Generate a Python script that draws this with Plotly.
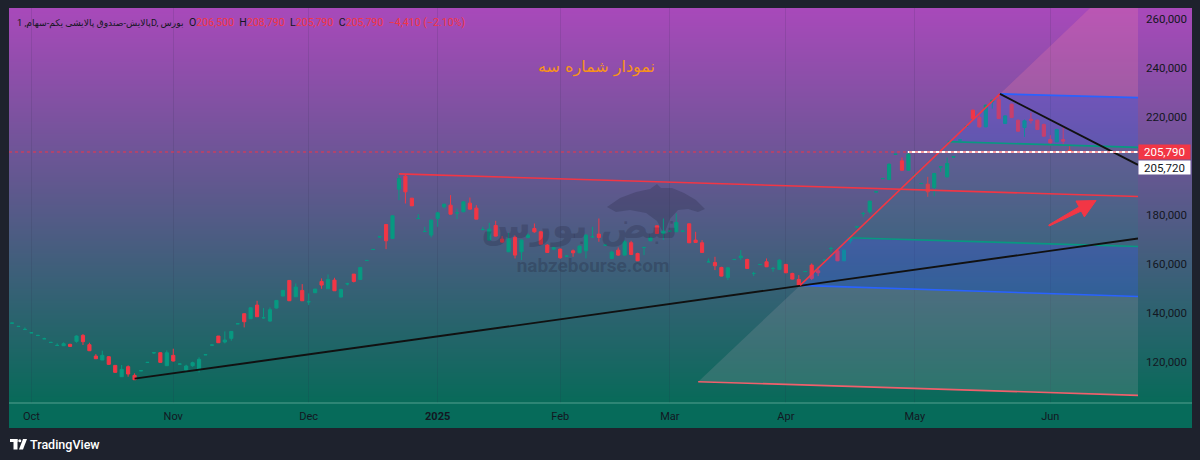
import base64, struct, zlib
import plotly.graph_objects as go

# ---------------- data (daily bars, index 0 = first bar shown) ----------------
opens = [135850,134500,133250,131900,130800,129450,127950,126730,126650,127200,
         128420,130870,127060,122430,120800,122160,118620,113990,118080,114540,
         116400,119800,123750,123790,118490,122710,119120,116720,118490,116990,
         122930,126880,130600,128150,129650,135580,139720,137670,143250,138000,
         136720,142030,146930,153320,146650,149240,144560,148290,152910,149920,
         153460,146520,151900,155910,153730,161430,165920,171090,176180,170470,
         190600,195910,186930,178580,173270,171830,178630,183390,184070,180890,
         181350,184890,182850,174090,169790,175770,170200,165020,170880,165020,
         170880,174550,173190,167750,166110,166110,163200,165430,164620,165430,
         171100,172240,167700,162300,165700,163660,168700,164340,166740,169510,
         175640,172510,173400,173190,173400,176450,169790,168700,160880,160670,
         158630,154550,161830,162570,161890,156120,159790,160940,158160,157810,
         159850,156180,153730,156920,159580,157270,161560,166330,165430,161350,
         169380,175170,180610,181350,189460,194900,194550,204830,202170,198360,
         196260,192860,192640,191280,199660,195640,203740,210680,216260,222850,
         219860,216050,226260,227340,217410,225300,218770,215780,219180,218770,
         217000,210880,209930,210880,206500]
highs = [136000,134600,134100,132050,130950,129920,128100,127600,128010,127470,
         130870,131420,127870,123250,124610,122430,118760,118760,118620,115360,
         116550,119950,124070,123930,124750,125430,119500,118890,120120,121890,
         123100,127050,130600,132500,132640,135900,139860,142300,145020,142030,
         142300,145290,149380,153460,152100,151820,148020,149790,154140,155770,
         154410,149920,152370,155910,158770,161600,166100,171250,176320,179860,
         196320,196590,186930,180400,175230,178220,181350,184620,188160,182710,
         185570,187200,184070,175230,176860,177680,171420,172780,171690,170060,
         172510,176590,173600,168150,167070,166380,163530,165970,167610,172240,
         175230,178630,167900,165430,166790,169790,169520,164620,167070,171150,
         175770,178630,173600,180670,173600,176590,173190,169790,162300,162980,
         158900,158770,162000,165700,162170,156860,160000,162300,158900,161890,
         160120,156450,155500,157100,160260,158900,161750,167070,165700,165970,
         171150,175350,181350,185840,189650,195100,201080,205000,203530,205430,
         196450,193050,195640,197270,199860,203530,203950,210850,216450,223130,
         220810,225170,227200,229390,220810,225570,219040,219040,221760,219040,
         217410,212650,215230,215780,208790]
lows = [135750,134450,133200,131850,130750,129400,127900,126700,126520,126110,
        127870,126930,124470,121340,120800,118760,115630,113860,113990,112770,
        116300,119750,123250,119710,118490,120250,119000,115770,118080,115770,
        122850,126800,127870,127600,128700,135500,134140,137670,138490,137670,
        136450,141890,146930,145020,146520,145020,143250,148290,149920,149790,
        149100,146380,151280,152500,153730,161350,165850,171000,166110,170330,
        186120,184750,183800,178500,173200,170870,175230,182710,180260,178360,
        181350,182300,178360,173730,169650,171280,168700,164880,162300,161620,
        170470,172780,168020,164620,165700,162170,162980,162980,164480,162300,
        170880,169110,167600,162030,163390,163390,163660,161210,163660,169380,
        172370,169790,173300,173050,173300,168560,168700,164620,160800,157540,
        154950,153460,161750,161620,158080,155090,159700,158770,156860,157670,
        156310,153730,151280,156850,153460,155090,161500,165020,161210,161210,
        168430,175100,179310,180670,189400,194850,194280,204750,198220,198220,
        196200,192800,187480,187750,197680,195370,203650,210600,216200,219310,
        215780,215910,223530,219310,217270,219720,214140,211970,217410,214820,
        212100,208570,209790,208570,205790]
closes = [135900,134550,133320,131960,130870,129510,128010,126790,127470,126380,
          130600,128290,124610,121340,122710,119030,115770,116990,115090,112770,
          116450,119850,123800,119850,123790,120390,119170,118350,119710,121070,
          122980,126930,127870,128970,132500,135630,136450,142160,138490,138090,
          141350,145160,149240,145020,150600,145020,144610,149790,151420,153730,
          149100,149650,151960,152910,158630,161490,165980,171150,169520,179720,
          194960,189520,183800,178630,173320,177950,180940,184480,180400,180940,
          185430,182440,178360,174140,174280,171420,168970,170200,163660,169790,
          171830,173190,168150,164750,166660,162580,163260,164620,167340,171830,
          171150,170880,167750,164890,163660,169110,163940,161350,166790,170880,
          172510,173460,173460,176990,173460,168700,168830,164750,160940,159310,
          155090,158490,161890,163260,158220,156180,159850,158900,158220,161620,
          156450,153870,151420,156980,154140,156450,161620,166390,161350,165700,
          170470,175230,180670,185710,189520,194960,200810,204890,198360,204890,
          196320,192920,189520,197000,199720,201080,203800,210730,216320,219450,
          216050,224900,226940,219450,220540,219860,214280,218500,218640,214960,
          212240,209520,214960,210200,205790]
bar_index = list(range(len(opens)))

month_start_bar = [3, 25, 46, 66, 85, 102, 120, 140, 161]
month_labels = ["Oct", "Nov", "Dec", "<b>2025</b>", "Feb", "Mar", "Apr", "May", "Jun"]
price_ticks = [120000, 140000, 160000, 180000, 200000, 220000, 240000, 260000]

x_range = [-0.47, 174.6]
y_range = [103250, 264610]

# drawings (bar index, price)
support_idx, support_price = [19, 174.6], [113170, 170450]
resist_idx, resist_price = [60, 174.6], [196860, 187590]
rise_idx, rise_price = [122.2, 153.2], [151300, 229510]
fall_idx, fall_price = [153.2, 174.6], [229510, 200530]
ray_idx, ray_price = [138.9, 174.6], [205790, 205790]
chan_left_idx = [106.4, 122.2, 129.6, 145.1, 153.2]
chan_left_price = [111960, 151300, 170730, 210040, 229510]
chan_right_price = [106370, 146780, 167190, 207670, 228000]
chan_right_idx = 174.6
arrow_tail = (160.8, 175760)
arrow_tip = (168.1, 185960)

last_price = 205790
second_label_price = 205720
symbol_text = "پالایش-صندوق پالایشی یکم-سهام, 1D, بورس"
ohlc_text = ["206,500", "208,790", "205,790", "205,790"]
change_text = "−4,410 (−2.10%)"
title_text = "نمودار شماره سه"

# ---------------- helpers (pixel layout) ----------------
W, H = 1200, 460
PL, PR, PT, PB = 9, 1138, 8, 403  # plot area in pixels
PX_PER_BAR = (PR - PL) / (x_range[1] - x_range[0])
PX_PER_PRICE = (PB - PT) / (y_range[1] - y_range[0])


def px(xp):
    return (xp - PL) / (PR - PL)


def py(yp):
    return (PB - yp) / (PB - PT)


def gradient_png():
    top = (168, 73, 186)
    bot = (8, 106, 89)
    axis = (6, 107, 90)
    rows = []
    n = PB - PT
    for i in range(n):
        t = i / (n - 1)
        rows.append(tuple(int(round(a + (b - a) * t)) for a, b in zip(top, bot)))
    for i in range(428 - PB):
        rows.append(axis)
    raw = b"".join(b"\x00" + bytes(r) for r in rows)

    def chunk(tag, data):
        c = struct.pack(">I", len(data)) + tag + data
        return c + struct.pack(">I", zlib.crc32(tag + data) & 0xffffffff)

    png = (b"\x89PNG\r\n\x1a\n"
           + chunk(b"IHDR", struct.pack(">IIBBBBB", 1, len(rows), 8, 2, 0, 0, 0))
           + chunk(b"IDAT", zlib.compress(raw, 9))
           + chunk(b"IEND", b""))
    return "data:image/png;base64," + base64.b64encode(png).decode(), len(rows)


def arrow_polygon(tail, tip):
    """Tapered TradingView-style arrow, built in pixel space then mapped to data."""
    dx = (tip[0] - tail[0]) * PX_PER_BAR
    dy = (tip[1] - tail[1]) * PX_PER_PRICE
    length = (dx * dx + dy * dy) ** 0.5
    ux, uy = dx / length, dy / length
    nx, ny = -uy, ux
    head_len, head_half, shaft_half, tail_half = 18.0, 9.0, 2.3, 0.6
    bx, by = dx - ux * head_len, dy - uy * head_len
    pts = [(nx * tail_half, ny * tail_half),
           (bx + nx * shaft_half, by + ny * shaft_half),
           (bx + nx * head_half, by + ny * head_half),
           (dx, dy),
           (bx - nx * head_half, by - ny * head_half),
           (bx - nx * shaft_half, by - ny * shaft_half),
           (-nx * tail_half, -ny * tail_half)]
    xs = [tail[0] + p[0] / PX_PER_BAR for p in pts] + [tail[0] + pts[0][0] / PX_PER_BAR]
    ys = [tail[1] + p[1] / PX_PER_PRICE for p in pts] + [tail[1] + pts[0][1] / PX_PER_PRICE]
    return xs, ys


FONT = "Roboto, 'DejaVu Sans', sans-serif"
RED = "#f23645"
GREEN = "#089981"
DARK = "#131722"

fig = go.Figure()

# watermark (below candles)
fig.add_trace(go.Scatter(x=[88], y=[174500], mode="text", text=["نبض بورس"],
                         textfont=dict(family="'DejaVu Sans', sans-serif", size=36,
                                       color="rgba(35,35,60,0.26)", weight="bold"),
                         hoverinfo="skip"))
fig.add_trace(go.Scatter(x=[90.1], y=[158900], mode="text", text=["nabzebourse.com"],
                         textfont=dict(family=FONT, size=19, color="rgba(35,35,60,0.30)",
                                       weight="bold"),
                         hoverinfo="skip"))

# fib channel fills
fill_colors = ["rgba(160,160,170,0.22)", "rgba(41,98,255,0.26)",
               "rgba(8,153,129,0.12)", "rgba(41,98,255,0.22)"]
for k in range(4):
    xs = [chan_left_idx[k], chan_right_idx, chan_right_idx, chan_left_idx[k + 1], chan_left_idx[k]]
    ys = [chan_left_price[k], chan_right_price[k], chan_right_price[k + 1], chan_left_price[k + 1],
          chan_left_price[k]]
    fig.add_trace(go.Scatter(x=xs, y=ys, fill="toself", fillcolor=fill_colors[k], mode="none",
                             hoverinfo="skip"))
slope = (chan_left_price[-1] - chan_left_price[0]) / (chan_left_idx[-1] - chan_left_idx[0])
ytop = y_range[1] + 30000
xtop = chan_left_idx[-1] + (ytop - chan_left_price[-1]) / slope
fig.add_trace(go.Scatter(x=[chan_left_idx[-1], chan_right_idx, chan_right_idx, xtop, chan_left_idx[-1]],
                         y=[chan_left_price[-1], chan_right_price[-1], ytop, ytop, chan_left_price[-1]],
                         fill="toself", fillcolor="rgba(245,130,165,0.24)", mode="none",
                         hoverinfo="skip"))

# candles
fig.add_trace(go.Candlestick(
    x=bar_index, open=opens, high=highs, low=lows, close=closes,
    increasing=dict(line=dict(color=GREEN, width=1), fillcolor=GREEN),
    decreasing=dict(line=dict(color=RED, width=1), fillcolor=RED),
    whiskerwidth=0, hoverinfo="skip"))

# channel level lines
level_colors = ["#f0606c", "#2962ff", GREEN, GREEN, "#2962ff"]
for k in range(5):
    fig.add_trace(go.Scatter(x=[chan_left_idx[k], chan_right_idx],
                             y=[chan_left_price[k], chan_right_price[k]], mode="lines",
                             line=dict(color=level_colors[k], width=1.6), hoverinfo="skip"))

# trend lines
fig.add_trace(go.Scatter(x=support_idx, y=support_price, mode="lines",
                         line=dict(color="#111111", width=1.8), hoverinfo="skip"))
fig.add_trace(go.Scatter(x=resist_idx, y=resist_price, mode="lines",
                         line=dict(color=RED, width=1.6), hoverinfo="skip"))
fig.add_trace(go.Scatter(x=rise_idx, y=rise_price, mode="lines",
                         line=dict(color=RED, width=1.6), hoverinfo="skip"))
fig.add_trace(go.Scatter(x=fall_idx, y=fall_price, mode="lines",
                         line=dict(color="#111111", width=1.8), hoverinfo="skip"))
fig.add_trace(go.Scatter(x=ray_idx, y=ray_price, mode="lines",
                         line=dict(color="#ffffff", width=1.8), hoverinfo="skip"))
# last price line
fig.add_trace(go.Scatter(x=x_range, y=[last_price, last_price], mode="lines",
                         line=dict(color=RED, width=1, dash="dot"), hoverinfo="skip"))

# arrow drawing
ax_, ay_ = arrow_polygon(arrow_tail, arrow_tip)
fig.add_trace(go.Scatter(x=ax_, y=ay_, fill="toself", fillcolor=RED, mode="lines",
                         line=dict(color=RED, width=1), hoverinfo="skip"))

# bull silhouette (watermark logo)
bull = [(607, 207), (620, 198), (636, 192), (650, 189), (657, 184), (661, 188), (672, 188),
        (684, 193), (696, 200), (705, 209), (698, 212), (688, 209), (678, 210), (670, 219),
        (664, 234), (657, 221), (646, 213), (630, 210), (616, 212)]
path = "M " + " L ".join(f"{px(a):.5f},{py(b):.5f}" for a, b in bull) + " Z"
shapes = [dict(type="path", path=path, xref="paper", yref="paper", layer="below",
               fillcolor="rgba(35,35,60,0.24)", line=dict(width=0))]
# separator between plot and time scale
shapes.append(dict(type="line", xref="paper", yref="paper", x0=px(PL), x1=px(1192), y0=0, y1=0,
                   line=dict(color="rgba(150,205,190,0.55)", width=1), layer="above"))
# TradingView logo
shapes += [
    dict(type="rect", xref="paper", yref="paper", x0=px(10), x1=px(17.5), y0=py(442), y1=py(439),
         fillcolor="white", line=dict(width=0)),
    dict(type="rect", xref="paper", yref="paper", x0=px(13.5), x1=px(17.5), y0=py(449.5), y1=py(439),
         fillcolor="white", line=dict(width=0)),
    dict(type="circle", xref="paper", yref="paper", x0=px(18.3), x1=px(21.3), y0=py(442.3), y1=py(439.3),
         fillcolor="white", line=dict(width=0)),
    dict(type="path", xref="paper", yref="paper",
         path=f"M {px(19):.5f},{py(449.5):.5f} L {px(23):.5f},{py(439):.5f} L {px(27):.5f},{py(439):.5f} L {px(23):.5f},{py(449.5):.5f} Z",
         fillcolor="white", line=dict(width=0)),
]

img_src, n_rows = gradient_png()

annotations = [
    dict(xref="paper", yref="paper", x=px(100), y=py(22.7), xanchor="center", yanchor="middle",
         text=symbol_text, showarrow=False, font=dict(family=FONT, size=9.2, color=DARK)),
    dict(xref="paper", yref="paper", x=px(187), y=py(22.7), xanchor="left", yanchor="middle",
         text=("O<span style='color:%s'>%s</span>\u00a0\u00a0H<span style='color:%s'>%s</span>"
               "\u00a0\u00a0L<span style='color:%s'>%s</span>\u00a0\u00a0C<span style='color:%s'>%s</span>"
               "\u00a0\u00a0<span style='color:%s'>%s</span>") % (
             RED, ohlc_text[0], RED, ohlc_text[1], RED, ohlc_text[2], RED, ohlc_text[3], RED, change_text),
         showarrow=False, font=dict(family=FONT, size=10.6, color=DARK)),
    dict(xref="paper", yref="paper", x=px(596.7), y=py(67.3), xanchor="center", yanchor="middle",
         text=title_text, showarrow=False,
         font=dict(family="'DejaVu Sans', sans-serif", size=16, color="#f7931a")),
    dict(xref="paper", yref="y", x=1.0, y=last_price, xanchor="left", yanchor="middle",
         text=f"{last_price:,}", showarrow=False, bgcolor=RED, width=51, height=14, borderpad=0,
         align="center", font=dict(family=FONT, size=11.5, color="white")),
    dict(xref="paper", yref="y", x=1.0, y=second_label_price, yshift=-15, xanchor="left",
         yanchor="middle", text=f"{second_label_price:,}", showarrow=False, bgcolor="white",
         width=51, height=13, borderpad=0, align="center",
         font=dict(family=FONT, size=11.5, color=DARK)),
    dict(xref="paper", yref="paper", x=px(28), y=py(444), xanchor="left", yanchor="middle",
         text="TradingView", showarrow=False,
         font=dict(family=FONT, size=12.5, color="white", weight=500)),
]
fig.update_layout(annotations=annotations)

fig.update_layout(
    width=W, height=H,
    margin=dict(l=PL, r=W - PR, t=PT, b=H - PB),
    paper_bgcolor="#1e222d", plot_bgcolor="rgba(0,0,0,0)",
    showlegend=False, hovermode=False,
    boxgap=0.3, boxgroupgap=0.3,
    shapes=shapes,
    images=[dict(source=img_src, xref="paper", yref="paper", x=0, y=1,
                 sizex=px(1192), sizey=n_rows / (PB - PT), xanchor="left", yanchor="top",
                 sizing="stretch", layer="below")],
    xaxis=dict(range=x_range, tickvals=month_start_bar, ticktext=month_labels,
               showgrid=True, gridcolor="rgba(40,40,70,0.13)", gridwidth=1,
               zeroline=False, showline=False, ticks="",
               tickfont=dict(family=FONT, size=11, color=DARK),
               rangeslider=dict(visible=False), fixedrange=True, ticklabelstandoff=5),
    yaxis=dict(range=y_range, side="right", tickvals=price_ticks,
               ticktext=[f"{v:,}" for v in price_ticks], showgrid=False, zeroline=False,
               showline=False, ticks="", tickfont=dict(family=FONT, size=11.5, color=DARK),
               fixedrange=True, ticklabelstandoff=7),
)

fig.write_html("out.html", config={"displayModeBar": False},
               post_script="document.body.style.margin='0px';document.body.style.overflow='hidden';")
